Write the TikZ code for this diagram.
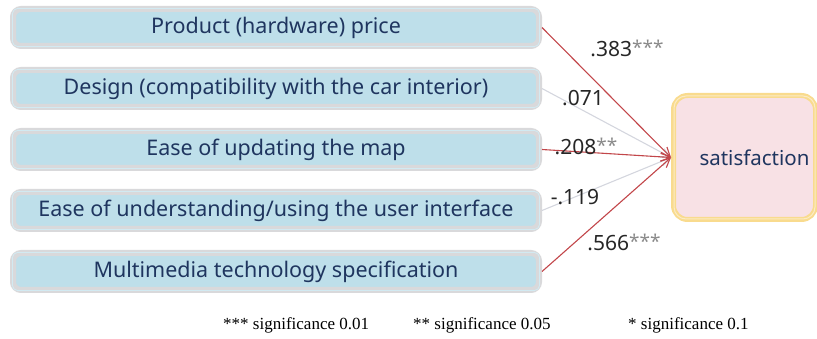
\documentclass[tikz,border=0pt]{standalone}
\usepackage{fontspec}
\setmainfont{Liberation Serif}
\newfontfamily\boxfont{Noto Sans}
\newfontfamily\numfont{Noto Sans}
\usetikzlibrary{arrows.meta}
\definecolor{boxgray}{HTML}{D9D9DB}
\definecolor{boxblue}{HTML}{BEDFEA}
\definecolor{boxline}{HTML}{D2EAF2}
\definecolor{navy}{HTML}{1F355F}
\definecolor{satpink}{HTML}{F8E1E5}
\definecolor{satyellow}{HTML}{F9DB8E}
\definecolor{satline}{HTML}{FCEBC4}
\definecolor{sigred}{HTML}{C2464A}
\definecolor{nsgray}{HTML}{D4D6DE}
\definecolor{stargray}{HTML}{8A8A8A}
\tikzset{
  factor/.style={draw=boxgray, line width=6pt, fill=boxblue, rounded corners=8pt,
    minimum width=526pt, minimum height=37pt, inner sep=0pt,
    font=\boxfont\fontsize{21.5}{24}\selectfont, text=navy},
  target/.style={draw=satyellow, line width=5pt, fill=satpink, rounded corners=14pt,
    minimum width=142pt, minimum height=124pt, inner sep=0pt,
    font=\boxfont\fontsize{20.5}{24}\selectfont, text=navy},
  sigarrow/.style={draw=sigred, line width=1.1pt, -{Straight Barb[length=9pt,width=9pt]}},
  nsarrow/.style={draw=nsgray, line width=1.1pt, -{Straight Barb[length=9pt,width=9pt]}},
  coef/.style={font=\numfont\fontsize{21}{24}\selectfont, text=black!85, inner sep=0pt},
  foot/.style={font=\fontsize{17}{20}\selectfont, inner sep=0pt, anchor=west}
}
\newcommand{\stars}[1]{\textcolor{stargray}{\raisebox{2pt}{\fontsize{19}{20}\selectfont #1}}}
\begin{document}
\begin{tikzpicture}[x=1pt,y=-1pt]
\useasboundingbox (0,0) rectangle (817,339);
\node[factor] (f1) at (276,27.5) {Product (hardware) price};
\node[factor] (f2) at (276,88.5) {Design (compatibility with the car interior)};
\node[factor] (f3) at (276,149.5) {Ease of updating the map};
\node[factor] (f4) at (276,210.5) {Ease of understanding/using the user interface};
\node[factor] (f5) at (276,271.5) {Multimedia technology specification};
\foreach \n in {f1,f2,f3,f4,f5}{
  \draw[boxline, line width=0.8pt, rounded corners=5pt]
    ([shift={(2.5pt,-2.5pt)}]\n.north west) rectangle ([shift={(-2.5pt,2.5pt)}]\n.south east);
}
\node[target] (sat) at (744.5,157.5) {\hspace*{20pt}satisfaction};
\draw[satline, line width=1pt, rounded corners=12pt]
  ([shift={(3pt,-3pt)}]sat.north west) rectangle ([shift={(-3pt,3pt)}]sat.south east);
\draw[nsarrow] (f2.east) -- (sat.west);
\draw[nsarrow] (f4.east) -- (sat.west);
\draw[sigarrow] (f1.east) -- (sat.west);
\draw[sigarrow] (f3.east) -- (sat.west);
\draw[sigarrow] (f5.east) -- (sat.west);
\node[coef] (c1) at (627,48) {.383\stars{***}};
\node[coef] (c2) at (583,98) {.071};
\node[coef] (c3) at (586,146) {.208\stars{**}};
\node[coef] (c4) at (575,197) {-.119};
\node[coef] (c5) at (624,242) {.566\stars{***}};
\node[foot] (n1) at (223,325) {*** significance 0.01};
\node[foot] (n2) at (413,325) {** significance 0.05};
\node[foot] (n3) at (628,325) {* significance 0.1};
\end{tikzpicture}
\end{document}
